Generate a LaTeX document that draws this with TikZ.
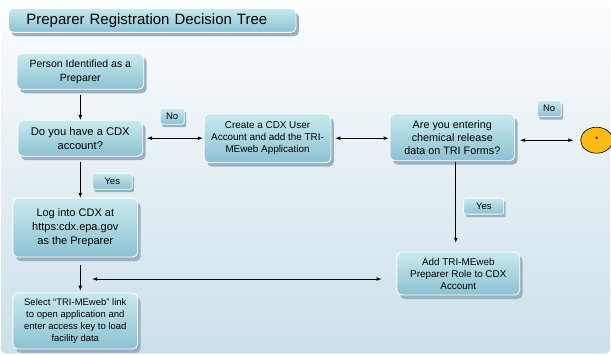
\documentclass[tikz,border=0pt]{standalone}
\usepackage{fontspec}
\setmainfont{Liberation Sans}
\usepackage{xcolor}
\usetikzlibrary{shapes.geometric,shadows,positioning}

\definecolor{boxtop}{RGB}{200,234,238}
\definecolor{boxbot}{RGB}{140,194,211}
\definecolor{boxshadow}{RGB}{155,177,194}
\definecolor{bgtop}{RGB}{252,253,254}
\definecolor{bgbot}{RGB}{204,224,234}
\definecolor{starfill}{RGB}{255,186,20}

\begin{document}
\begin{tikzpicture}[x=1pt, y=-1pt,
    shade/.style={rectangle, rounded corners=5pt, draw=white, line width=0.8pt,
                  top color=boxtop, bottom color=boxbot, align=center, inner sep=1pt},
    box/.style={shade, general shadow={fill=boxshadow, shadow xshift=3pt, shadow yshift=-4pt},
                font=\fontsize{10.5}{14}\selectfont},
    tag/.style={shade, rounded corners=2pt, minimum width=24, minimum height=16,
                general shadow={fill=boxshadow, shadow xshift=2pt, shadow yshift=-3pt},
                font=\fontsize{9.5}{10}\selectfont},
    arr/.style={->, >=latex, line width=0.7pt},
    dbl/.style={<->, >=latex, line width=0.7pt}
]
    % background
    \shade[top color=bgtop, bottom color=bgbot] (0,0) rectangle (611,354);
    \useasboundingbox (0,0) rectangle (611,354);

    % title bar
    \node[shade, general shadow={fill=boxshadow, shadow xshift=3pt, shadow yshift=-4pt},
          minimum width=288, minimum height=24, text width=252, align=left,
          inner xsep=18pt, font=\fontsize{15}{17}\selectfont] (title) at (152,20)
          {Preparer Registration Decision Tree};

    % left column
    \node[box, minimum width=127, minimum height=36] (person) at (80,71)
          {Person Identified as a\\Preparer};
    \node[box, minimum width=125, minimum height=36, font=\fontsize{11.2}{14}\selectfont]
          (doyou) at (80,138) {Do you have a CDX\\account?};
    \node[box, minimum width=125, minimum height=59, font=\fontsize{11}{14}\selectfont]
          (login) at (75,227.5)
          {Log into CDX at\\https:cdx.epa.gov\\as the Preparer};
    \node[box, minimum width=125, minimum height=56, font=\fontsize{9.5}{12.3}\selectfont]
          (select) at (75,321)
          {Select “TRI-MEweb” link\\to open application and\\enter access key to load\\facility data};

    % right part
    \node[box, minimum width=127, minimum height=49, font=\fontsize{9.9}{12}\selectfont]
          (create) at (267.5,138) {Create a CDX User\\Account and add the TRI-\\MEweb Application};
    \node[box, minimum width=125, minimum height=47, font=\fontsize{10.8}{13}\selectfont]
          (areyou) at (452.5,137) {Are you entering\\chemical release\\data on TRI Forms?};
    \node[box, minimum width=123, minimum height=43, font=\fontsize{9.9}{12}\selectfont]
          (addrole) at (458.5,273.5) {Add TRI-MEweb\\Preparer Role to CDX\\Account};
    \node[ellipse, draw=black, line width=0.6pt, fill=starfill, minimum width=32,
          minimum height=26, inner sep=0pt, font=\fontsize{8}{8}\selectfont]
          (star) at (597,140) {*};

    % labels
    \node[tag] (no1) at (172,116) {No};
    \node[tag, minimum width=40] (yes1) at (112,181) {Yes};
    \node[tag] (no2) at (549.5,108.5) {No};
    \node[tag, minimum width=40] (yes2) at (484,206) {Yes};

    \coordinate (midleft) at (92,279);

    % connectors
    \draw[arr, shorten <=5pt] (person.south) -- (person.south |- doyou.north);
    \draw[arr, shorten <=5pt] (doyou.south) -- (doyou.south |- login.north);
    \draw[arr, shorten <=8pt, shorten >=2pt] (login.south -| doyou.south) -- (select.north -| doyou.south);
    \draw[dbl, shorten <=4pt, shorten >=1pt] (doyou.east) -- (doyou.east -| create.west);
    \draw[dbl, shorten <=4pt, shorten >=1pt] (create.east) -- (create.east -| areyou.west);
    \draw[dbl, shorten <=5pt, shorten >=7pt] (areyou.east |- star.west) -- (star.west);
    \draw[arr, shorten <=1pt, shorten >=9pt] (areyou.south -| 456,0) -- (addrole.north -| 456,0);
    \draw[dbl, shorten >=15pt] (midleft) -- (midleft -| addrole.west);
\end{tikzpicture}
\end{document}
